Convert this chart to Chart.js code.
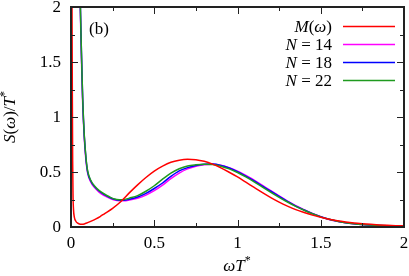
<!DOCTYPE html>
<html>
<head>
<meta charset="utf-8">
<script src="https://cdn.jsdelivr.net/npm/chart.js@4.4.0/dist/chart.umd.min.js"></script>
<style>
  html, body { margin: 0; padding: 0; background: #fff; }
  #wrap { width: 409px; height: 276px; position: relative; }
</style>
</head>
<body>
<div id="wrap"><canvas id="specChart"></canvas></div>
<script>
// frequency grid shared by the three finite-N spectra
const omegaN = [0.05, 0.055, 0.06, 0.065, 0.07, 0.075, 0.08, 0.09, 0.1, 0.12, 0.14, 0.17, 0.2, 0.23, 0.26, 0.29, 0.32, 0.35,
  0.4, 0.45, 0.5, 0.55, 0.6, 0.65, 0.7, 0.75, 0.8, 0.85, 0.9, 0.95, 1.0, 1.05, 1.1, 1.15, 1.2, 1.25, 1.3, 1.35, 1.4, 1.45,
  1.5, 1.55, 1.6, 1.65, 1.7, 1.75, 1.8, 1.85, 1.9, 1.95, 2.0];
const n14 = [2.6, 2.05, 1.7, 1.4, 1.13, 0.95, 0.8, 0.6, 0.49, 0.405, 0.36, 0.315, 0.285, 0.262, 0.245, 0.238, 0.238, 0.245,
  0.262, 0.29, 0.33, 0.38, 0.44, 0.49, 0.528, 0.553, 0.565, 0.57, 0.562, 0.54, 0.508, 0.468, 0.426, 0.378, 0.33, 0.282, 0.236, 0.193, 0.157, 0.123,
  0.093, 0.069, 0.051, 0.038, 0.029, 0.022, 0.017, 0.013, 0.01, 0.008, 0.006];
const n18 = [2.6, 2.1, 1.75, 1.45, 1.17, 0.97, 0.82, 0.62, 0.5, 0.415, 0.37, 0.325, 0.295, 0.27, 0.252, 0.243, 0.243, 0.252,
  0.272, 0.305, 0.35, 0.4, 0.46, 0.51, 0.54, 0.56, 0.57, 0.572, 0.56, 0.536, 0.502, 0.463, 0.42, 0.372, 0.325, 0.278, 0.233, 0.19, 0.155, 0.122,
  0.093, 0.07, 0.052, 0.039, 0.03, 0.023, 0.018, 0.014, 0.011, 0.009, 0.007];
const n22 = [2.6, 2.1, 1.75, 1.45, 1.18, 0.98, 0.83, 0.63, 0.51, 0.42, 0.375, 0.33, 0.3, 0.275, 0.255, 0.248, 0.25, 0.262,
  0.285, 0.325, 0.375, 0.435, 0.49, 0.53, 0.555, 0.565, 0.57, 0.568, 0.553, 0.528, 0.495, 0.455, 0.41, 0.362, 0.315, 0.27, 0.227, 0.187, 0.152, 0.12,
  0.092, 0.07, 0.052, 0.039, 0.03, 0.023, 0.018, 0.014, 0.011, 0.009, 0.007];

// M(omega) needs a finer grid near zero
const omegaM = [0.004, 0.006, 0.008, 0.01, 0.012, 0.015, 0.02, 0.03, 0.04, 0.05, 0.065, 0.08, 0.1, 0.125, 0.15, 0.175,
  0.2, 0.25, 0.3, 0.35, 0.4, 0.45, 0.5, 0.55, 0.6, 0.65, 0.7, 0.75, 0.8, 0.85, 0.9, 0.95, 1.0, 1.05, 1.1, 1.15, 1.2,
  1.25, 1.3, 1.35, 1.4, 1.45, 1.5, 1.55, 1.6, 1.65, 1.7, 1.75, 1.8, 1.85, 1.9, 1.95, 2.0];
const mVals = [3.0, 2.0, 1.2, 0.6, 0.3, 0.16, 0.09, 0.05, 0.035, 0.028, 0.025, 0.028, 0.04, 0.056, 0.074, 0.095,
  0.12, 0.17, 0.232, 0.31, 0.383, 0.45, 0.508, 0.553, 0.588, 0.607, 0.615, 0.612, 0.597, 0.572, 0.538, 0.498, 0.455,
  0.407, 0.36, 0.312, 0.267, 0.226, 0.19, 0.158, 0.132, 0.108, 0.088, 0.071, 0.057, 0.046, 0.037, 0.03, 0.024,
  0.019, 0.015, 0.012, 0.01];

const tickVals = [0, 0.5, 1, 1.5, 2];
const tickLabels = ['0', '0.5', '1', '1.5', '2'];
const seriesNames = ['M(ω)', 'N = 14', 'N = 18', 'N = 22'];
const seriesColors = ['#ff0000', '#ff00ff', '#0000ff', '#1f9a1f'];

const serif = '"Liberation Serif"';

function pts(xs, ys) {
  return xs.map((v, i) => ({ x: v, y: ys[i] }));
}

// draw a string made of pieces: {t, it, sup}
function drawRich(ctx, pieces, x, y, align, size) {
  const fontOf = p => (p.it ? 'italic ' : '') + (p.sup ? Math.round(size * 0.7) : size) + 'px ' + serif;
  let total = 0;
  pieces.forEach(p => { ctx.font = fontOf(p); total += ctx.measureText(p.t).width; });
  let cx = align === 'right' ? x - total : align === 'center' ? x - total / 2 : x;
  ctx.textBaseline = 'alphabetic';
  ctx.textAlign = 'left';
  pieces.forEach(p => {
    ctx.font = fontOf(p);
    ctx.fillText(p.t, cx, p.sup ? y - size * 0.4 : y);
    cx += ctx.measureText(p.t).width;
  });
}

const legendPieces = [
  [{ t: 'M', it: true }, { t: '(' }, { t: 'ω', it: true }, { t: ')' }],
  [{ t: 'N', it: true }, { t: ' = 14' }],
  [{ t: 'N', it: true }, { t: ' = 18' }],
  [{ t: 'N', it: true }, { t: ' = 22' }]
];

const decor = {
  id: 'decor',
  afterDatasetsDraw(chart) {
    const { ctx, chartArea: a, scales: { x, y } } = chart;
    ctx.save();
    ctx.strokeStyle = '#222';
    ctx.lineWidth = 1;
    ctx.beginPath();
    for (let k = 0; k <= 8; k++) {
      const v = k * 0.25;
      const len = k % 2 === 0 ? 7 : 4;
      const px = Math.round(x.getPixelForValue(v)) + 0.5;
      ctx.moveTo(px, a.bottom); ctx.lineTo(px, a.bottom - len);
      ctx.moveTo(px, a.top); ctx.lineTo(px, a.top + len);
      const py = Math.round(y.getPixelForValue(v)) + 0.5;
      ctx.moveTo(a.left, py); ctx.lineTo(a.left + len, py);
      ctx.moveTo(a.right, py); ctx.lineTo(a.right - len, py);
    }
    ctx.stroke();
    ctx.lineWidth = 2;
    ctx.strokeRect(a.left, a.top, a.width, a.height);

    // tick labels
    ctx.fillStyle = '#000';
    ctx.font = '17px ' + serif;
    ctx.textBaseline = 'middle';
    tickVals.forEach((v, i) => {
      ctx.textAlign = 'right';
      ctx.fillText(tickLabels[i], a.left - 10, y.getPixelForValue(v) + 1);
      ctx.textAlign = 'center';
      ctx.fillText(tickLabels[i], x.getPixelForValue(v), a.bottom + 17);
    });

    // legend: text then sample line
    legendPieces.forEach((pc, i) => {
      const ly = 26 + i * 18;
      ctx.fillStyle = '#000';
      drawRich(ctx, pc, 332, ly + 6, 'right', 17);
      ctx.strokeStyle = seriesColors[i];
      ctx.lineWidth = 1.5;
      ctx.beginPath();
      ctx.moveTo(343, ly + 0.5);
      ctx.lineTo(395, ly + 0.5);
      ctx.stroke();
    });

    // panel label
    ctx.fillStyle = '#000';
    drawRich(ctx, [{ t: '(b)' }], 89, 34, 'left', 17);

    // axis titles
    drawRich(ctx, [{ t: 'ω', it: true }, { t: 'T', it: true }, { t: '*', sup: true }], 237, 271, 'center', 17);
    ctx.translate(15, 117);
    ctx.rotate(-Math.PI / 2);
    drawRich(ctx, [{ t: 'S', it: true }, { t: '(' }, { t: 'ω', it: true }, { t: ')/' }, { t: 'T', it: true }, { t: '*', sup: true }], 0, 0, 'center', 17);
    ctx.restore();
  }
};

const datasets = [
  { data: pts(omegaM, mVals), borderColor: seriesColors[0], order: 0 },
  { data: pts(omegaN, n14), borderColor: seriesColors[1], order: 3 },
  { data: pts(omegaN, n18), borderColor: seriesColors[2], order: 2 },
  { data: pts(omegaN, n22), borderColor: seriesColors[3], order: 1 }
].map((d, i) => Object.assign(d, {
  label: seriesNames[i],
  showLine: true,
  pointRadius: 0,
  borderWidth: 1.5,
  cubicInterpolationMode: 'monotone',
  fill: false
}));

new Chart(document.getElementById('specChart'), {
  type: 'scatter',
  data: { datasets },
  options: {
    responsive: true,
    maintainAspectRatio: false,
    animation: false,
    layout: { padding: { top: 7, right: 5, left: 0, bottom: 0 } },
    plugins: { legend: { display: false }, tooltip: { enabled: false } },
    scales: {
      x: {
        type: 'linear', min: 0, max: 2,
        afterFit: s => { s.height = 49; },
        grid: { display: false, drawTicks: false },
        border: { display: false },
        ticks: { display: false }
      },
      y: {
        type: 'linear', min: 0, max: 2,
        afterFit: s => { s.width = 71; },
        grid: { display: false, drawTicks: false },
        border: { display: false },
        ticks: { display: false }
      }
    }
  },
  plugins: [decor]
});
</script>
</body>
</html>
